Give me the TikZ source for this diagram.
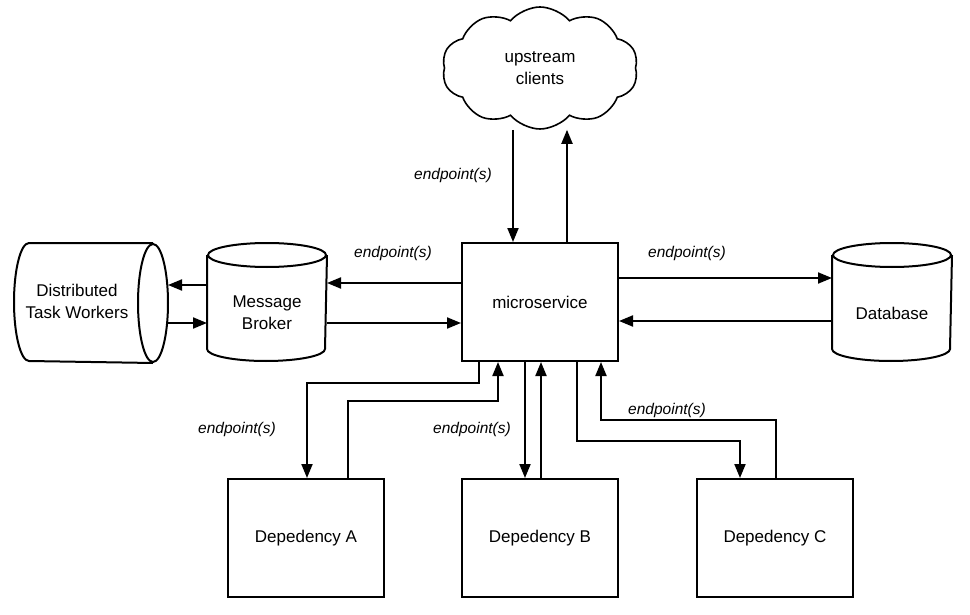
\documentclass[tikz,border=0pt]{standalone}
\usepackage{fontspec}
\setmainfont{Liberation Sans}
\usetikzlibrary{arrows.meta,shapes.symbols}
\begin{document}
\begin{tikzpicture}[x=1pt,y=-1pt,line width=2pt,
  box/.style={draw,line width=2pt,minimum width=156pt,minimum height=118pt,inner sep=0pt,
    font=\fontsize{17}{22}\selectfont,align=center},
  cylbox/.style={draw=none,inner sep=0pt},
  txt/.style={font=\fontsize{17}{22}\selectfont,align=center,inner sep=0pt},
  lbl/.style={font=\fontsize{15.5}{18}\selectfont\itshape,inner sep=0pt},
  arr/.style={-{Triangle[length=14pt,width=11pt]},line width=2pt},
  cloudshape/.style={cloud,draw,line width=1.6pt,cloud puffs=10,cloud puff arc=100,
    cloud ignores aspect,minimum width=196pt,minimum height=122pt,inner sep=0pt,
    font=\fontsize{17}{22}\selectfont,align=center}
]
\useasboundingbox (0,0) rectangle (970,615);

% nodes
\node[box] (ms) at (540,302) {microservice};
\node[box] (depA) at (306,538) {Depedency A};
\node[box] (depB) at (540,538) {Depedency B};
\node[box] (depC) at (775,538) {Depedency C};
\node[cloudshape] (cl) at (540,68) {upstream\\clients};

\node[cylbox,minimum width=118pt,minimum height=116pt] (broker) at (267,302) {};
\node[cylbox,minimum width=118pt,minimum height=116pt] (db) at (892,302) {};
\node[cylbox,minimum width=152pt,minimum height=118pt] (workers) at (91,303) {};

% cylinder outlines
\draw ([yshift=-12pt]broker.north) ellipse [x radius=59pt,y radius=12pt];
\draw ([yshift=-12pt]broker.north west) -- ([yshift=12pt]broker.south west)
  arc[start angle=180,end angle=360,x radius=59pt,y radius=12pt] -- ([yshift=-12pt]broker.north east);
\node[txt] (brokertxt) at ([yshift=-11pt]broker.center) {Message\\Broker};

\draw ([yshift=-12pt]db.north) ellipse [x radius=59pt,y radius=12pt];
\draw ([yshift=-12pt]db.north west) -- ([yshift=12pt]db.south west)
  arc[start angle=180,end angle=360,x radius=59pt,y radius=12pt] -- ([yshift=-12pt]db.north east);
\node[txt] (dbtxt) at ([yshift=-11pt]db.center) {Database};

\draw ([xshift=-15pt]workers.east) ellipse [x radius=15pt,y radius=59pt];
\draw ([xshift=-15pt]workers.north east) -- ([xshift=15pt]workers.north west)
  arc[start angle=90,end angle=270,x radius=15pt,y radius=59pt] -- ([xshift=-15pt]workers.south east);
\node[txt] (workerstxt) at ([xshift=-14pt,yshift=2pt]workers.center) {Distributed\\Task Workers};

% cloud connectors
\draw[arr] ([xshift=-27pt]ms.north |- cl.south) -- ([xshift=-27pt]ms.north);
\draw[arr] ([xshift=27pt]ms.north) -- ([xshift=27pt]ms.north |- cl.south);

% broker / ms
\draw[arr] ([yshift=19pt]ms.west) -- ([yshift=19pt]ms.west -| broker.east);
\draw[arr] ([yshift=-21pt]broker.east) -- ([yshift=-21pt]broker.east -| ms.west);

% workers / broker
\draw[arr] ([yshift=17pt]broker.west) -- ([yshift=17pt]broker.west -| workers.east);
\draw[arr] ([yshift=-20pt]workers.east) -- ([yshift=-20pt]workers.east -| broker.west);

% ms / db
\draw[arr] ([yshift=24pt]ms.east) -- ([yshift=24pt]ms.east -| db.west);
\draw[arr] ([yshift=-19pt]db.west) -- ([yshift=-19pt]db.west -| ms.east);

% dependency A
\draw[arr] ([xshift=-61pt]ms.south) -- ++(0,21) -| ([xshift=1pt]depA.north);
\draw[arr] ([xshift=42pt]depA.north) -- ++(0,-77) -| ([xshift=-42pt]ms.south);

% dependency B
\draw[arr] ([xshift=-15pt]ms.south) -- ([xshift=-15pt]depB.north);
\draw[arr] ([xshift=1pt]depB.north) -- ([xshift=1pt]ms.south);

% dependency C
\draw[arr] ([xshift=37pt]ms.south) -- ++(0,79) -| ([xshift=-35pt]depC.north);
\draw[arr] ([xshift=1pt]depC.north) -- ++(0,-58) -| ([xshift=61pt]ms.south);

% labels
\node[lbl] (l1) at (453,175) {endpoint(s)};
\node[lbl] (l2) at (393,253) {endpoint(s)};
\node[lbl] (l3) at (687,253) {endpoint(s)};
\node[lbl] (l4) at (237,429) {endpoint(s)};
\node[lbl] (l5) at (472,429) {endpoint(s)};
\node[lbl] (l6) at (667,410) {endpoint(s)};
\end{tikzpicture}
\end{document}
